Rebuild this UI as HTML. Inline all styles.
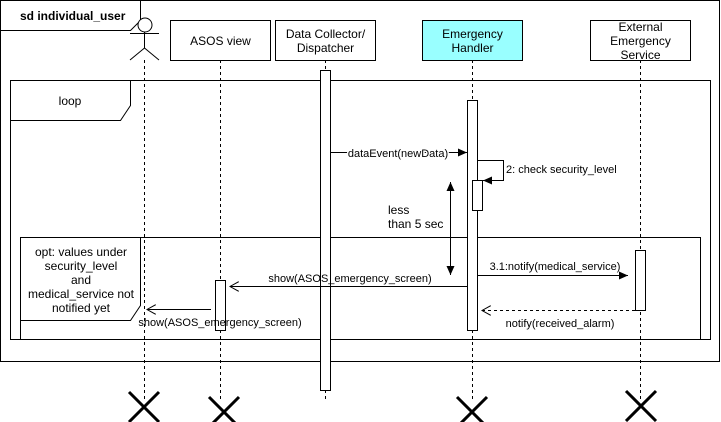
<!DOCTYPE html>
<html><head><meta charset="utf-8"><style>
html,body{margin:0;padding:0;background:#fff;}
svg{display:block;font-family:"Liberation Sans",Arial,sans-serif;}
text{font-size:11px;fill:#000;}
</style></head><body>
<svg width="721" height="422" viewBox="0 0 721 422" xmlns="http://www.w3.org/2000/svg">
<defs>
<marker id="fa" markerWidth="10" markerHeight="8" refX="9" refY="4" orient="auto-start-reverse" markerUnits="userSpaceOnUse"><path d="M0,0 L9,4 L0,8 Z" fill="#000"/></marker>
<marker id="oa" markerWidth="10" markerHeight="10" refX="9" refY="5" orient="auto" markerUnits="userSpaceOnUse"><path d="M0,0 L9,5 L0,10" fill="none" stroke="#000"/></marker>
</defs>
<g stroke="#000" fill="none">
<rect x="0.5" y="0.5" width="719" height="361"/>
<path d="M0.5,30.5 H130.5 L140.5,20.5 V0.5"/>
<rect x="10.5" y="80.5" width="700" height="259"/>
<path d="M10.5,120.5 H120.5 L130.5,105.5 V80.5"/>
<rect x="20.5" y="237.5" width="680" height="102"/>
<path d="M20.5,320.5 H130.5 L140.5,305.5 V237.5"/>
<g stroke-dasharray="3,3">
<line x1="144.5" y1="60" x2="144.5" y2="400"/>
<line x1="220.5" y1="60" x2="220.5" y2="400"/>
<line x1="325.5" y1="60" x2="325.5" y2="400"/>
<line x1="472.5" y1="60" x2="472.5" y2="400"/>
<line x1="640.5" y1="60" x2="640.5" y2="400"/>
</g>
<circle cx="145" cy="25" r="7" fill="#fff"/>
<line x1="130" y1="33.5" x2="159" y2="33.5"/>
<line x1="144.5" y1="32" x2="144.5" y2="48"/>
<path d="M130,60 L144.5,48 L159,60"/>
<rect x="170.5" y="20.5" width="100" height="40" fill="#fff"/>
<rect x="275.5" y="20.5" width="100" height="40" fill="#fff"/>
<rect x="422.5" y="20.5" width="100" height="40" fill="#99ffff"/>
<rect x="590.5" y="20.5" width="100" height="40" fill="#fff"/>
<rect x="320.5" y="70.5" width="10" height="320" fill="#fff"/>
<rect x="467.5" y="100.5" width="10" height="230" fill="#fff"/>
<rect x="472.5" y="180.5" width="10" height="30" fill="#fff"/>
<rect x="635.5" y="250.5" width="10" height="60" fill="#fff"/>
<rect x="215.5" y="280.5" width="10" height="50" fill="#fff"/>
<line x1="331" y1="152.5" x2="467" y2="152.5" marker-end="url(#fa)"/>
<path d="M478,160.5 H503.5 V180.5 H483" marker-end="url(#fa)"/>
<line x1="450.5" y1="182" x2="450.5" y2="275" marker-start="url(#fa)" marker-end="url(#fa)"/>
<line x1="467" y1="286.5" x2="230" y2="286.5" marker-end="url(#oa)"/>
<line x1="478" y1="275.5" x2="628" y2="275.5" marker-end="url(#fa)"/>
<line x1="635" y1="310.5" x2="482" y2="310.5" stroke-dasharray="3,3" marker-end="url(#oa)"/>
<line x1="211" y1="309.5" x2="147" y2="309.5" marker-end="url(#oa)"/>
<g stroke-width="3">
<path d="M129,392 L159,422 M159,392 L129,422" transform="translate(0,0)"/>
<path d="M209,397 L239,427 M239,397 L209,427"/>
<path d="M457,397 L487,427 M487,397 L457,427"/>
<path d="M626,391 L656,421 M656,391 L626,421"/>
</g>
</g>
<text x="20" y="20" style="font-weight:bold;font-size:12px">sd individual_user</text>
<text x="220.5" y="45" text-anchor="middle" style="font-size:12px">ASOS view</text>
<text x="325.5" y="38" text-anchor="middle" style="font-size:12px">Data Collector/</text>
<text x="325.5" y="52" text-anchor="middle" style="font-size:12px">Dispatcher</text>
<text x="472.5" y="38" text-anchor="middle" style="font-size:12px">Emergency</text>
<text x="472.5" y="52" text-anchor="middle" style="font-size:12px">Handler</text>
<text x="640.5" y="31" text-anchor="middle" style="font-size:12px">External</text>
<text x="640.5" y="45" text-anchor="middle" style="font-size:12px">Emergency</text>
<text x="640.5" y="59" text-anchor="middle" style="font-size:12px">Service</text>
<text x="70" y="105" text-anchor="middle" style="font-size:12px">loop</text>
<g style="font-size:12px">
<text x="81" y="256" text-anchor="middle" style="font-size:12px">opt: values under</text>
<text x="81" y="270" text-anchor="middle" style="font-size:12px">security_level</text>
<text x="81" y="284" text-anchor="middle" style="font-size:12px">and</text>
<text x="81" y="298" text-anchor="middle" style="font-size:12px">medical_service not</text>
<text x="81" y="312" text-anchor="middle" style="font-size:12px">notified yet</text>
</g>
<text x="398" y="157" text-anchor="middle" stroke="#fff" stroke-width="3" paint-order="stroke">dataEvent(newData)</text>
<text x="506" y="173">2: check security_level</text>
<text x="388" y="214" style="font-size:12px">less</text>
<text x="388" y="228" style="font-size:12px">than 5 sec</text>
<text x="350" y="282" text-anchor="middle">show(ASOS_emergency_screen)</text>
<text x="555" y="270" text-anchor="middle">3.1:notify(medical_service)</text>
<text x="560" y="327" text-anchor="middle">notify(received_alarm)</text>
<text x="220" y="326" text-anchor="middle">show(ASOS_emergency_screen)</text>
</svg>
</body></html>
